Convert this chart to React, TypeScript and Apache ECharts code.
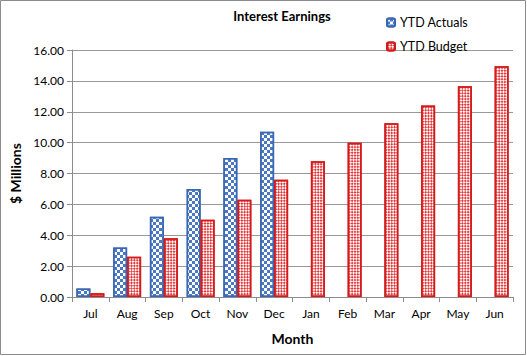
import React, { useEffect, useRef } from "react";
import * as echarts from "echarts";

const months = ["Jul", "Aug", "Sep", "Oct", "Nov", "Dec", "Jan", "Feb", "Mar", "Apr", "May", "Jun"];
const ytdActuals: (number | null)[] = [0.55, 3.2, 5.2, 7.0, 9.0, 10.7, null, null, null, null, null, null];
const ytdBudget = [0.25, 2.6, 3.8, 5.0, 6.3, 7.6, 8.8, 10.0, 11.25, 12.4, 13.65, 14.95];

const FONT = "Lato";

export default function App() {
  const ref = useRef<HTMLDivElement>(null);
  useEffect(() => {
    const chart = echarts.init(ref.current!, undefined, { renderer: "svg" });
    chart.setOption({
      animation: false,
      backgroundColor: "#fff",
      textStyle: { fontFamily: FONT },
      title: {
        text: "Interest Earnings",
        left: 277,
        top: 4,
        textAlign: "center",
        textStyle: { fontSize: 13, fontWeight: "bold", color: "#000", fontFamily: FONT },
      },
      legend: {
        orient: "vertical",
        left: 381,
        top: 11,
        itemWidth: 8,
        itemHeight: 8,
        itemGap: 11,
        textStyle: { fontSize: 12.5, color: "#000", fontFamily: FONT },
        data: ["YTD Actuals", "YTD Budget"],
      },
      grid: { left: 72, right: 14, top: 50, bottom: 59, containLabel: false },
      xAxis: {
        type: "category",
        data: months,
        name: "Month",
        nameLocation: "middle",
        nameGap: 34,
        nameTextStyle: { fontSize: 14, fontWeight: "bold", color: "#000", fontFamily: FONT },
        axisLine: { lineStyle: { color: "#8c8c8c" } },
        axisTick: { show: true, length: 5, alignWithLabel: false, lineStyle: { color: "#8c8c8c" } },
        axisLabel: { fontSize: 12, color: "#000", margin: 10, fontFamily: FONT },
      },
      yAxis: {
        type: "value",
        min: 0,
        max: 16,
        interval: 2,
        name: "$ Millions",
        nameLocation: "middle",
        nameGap: 44,
        nameTextStyle: { fontSize: 14, fontWeight: "bold", color: "#000", fontFamily: FONT },
        axisLine: { show: true, lineStyle: { color: "#8c8c8c" } },
        axisTick: { show: true, length: 5, lineStyle: { color: "#8c8c8c" } },
        axisLabel: {
          fontSize: 12,
          color: "#000",
          margin: 8,
          fontFamily: FONT,
          formatter: (v: number) => v.toFixed(2),
        },
        splitLine: { lineStyle: { color: "#999", width: 1 } },
      },
      series: [
        {
          name: "YTD Actuals",
          type: "bar",
          data: ytdActuals,
          barWidth: 14,
          barGap: "0%",
          itemStyle: {
            color: "#ffffff",
            borderColor: "#3a67b3",
            borderWidth: 1.5,
            decal: {
              symbol: "rect",
              symbolSize: 1,
              color: "#4a78c4",
              dashArrayX: [[3, 3], [0, 3, 3, 0]],
              dashArrayY: [3, 0],
              rotation: 0,
            },
          },
        },
        {
          name: "YTD Budget",
          type: "bar",
          data: ytdBudget,
          barWidth: 14,
          itemStyle: {
            color: "#ffffff",
            borderColor: "#d51a1a",
            borderWidth: 1.5,
            decal: {
              symbol: "rect",
              symbolSize: 1,
              color: "#e23a3c",
              dashArrayX: [[2, 2], [0, 2, 2, 0]],
              dashArrayY: [2, 0],
              rotation: Math.PI / 4,
            },
          },
        },
      ],
      graphic: [
        {
          type: "rect",
          shape: { x: 0.5, y: 0.5, width: 525, height: 354 },
          style: { fill: "none", stroke: "#8c8c8c", lineWidth: 1 },
          silent: true,
        },
      ],
    });
    return () => chart.dispose();
  }, []);
  return (
    <div
      ref={ref}
      style={{ position: "fixed", left: 0, top: 0, width: 527, height: 356 }}
    />
  );
}
